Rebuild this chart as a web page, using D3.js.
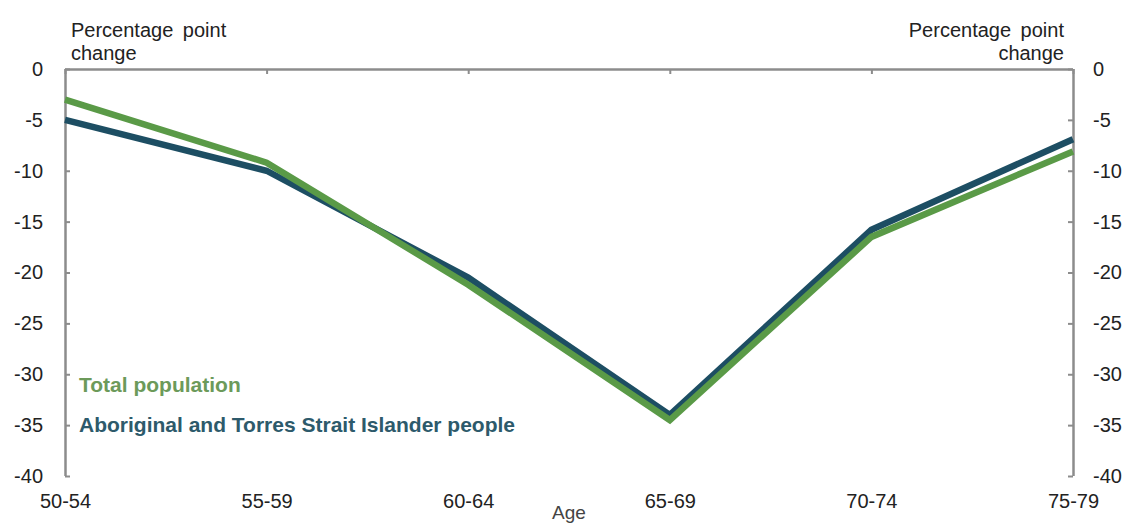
<!DOCTYPE html>
<html><head><meta charset="utf-8">
<script src="https://cdn.jsdelivr.net/npm/d3@7"></script>
<style>body{margin:0;background:#fff}svg{display:block}text{font-family:"Liberation Sans",Arial,sans-serif}</style>
</head><body><svg id="c" width="1126" height="525"></svg>
<script>
const categories = ["50-54","55-59","60-64","65-69","70-74","75-79"];
const totalPopulation = [-3.0, -9.2, -21.2, -34.5, -16.5, -8.1];
const aboriginal = [-5.0, -10.0, -20.5, -34.0, -15.8, -6.9];
const yTicks = [0,-5,-10,-15,-20,-25,-30,-35,-40];

const svg = d3.select("#c");
const L = 65, R = 1073, T = 69, B = 476;
const x = d3.scalePoint().domain(categories).range([L, R]);
const y = d3.scaleLinear().domain([-40, 0]).range([B, T]);
const axisCol = "#8c8c8c", txtCol = "#222";
const fmt = d => String(d);

const la = svg.append("g").attr("transform", `translate(${L},0)`)
  .call(d3.axisLeft(y).tickValues(yTicks).tickSize(-5).tickPadding(22).tickFormat(fmt));
const ra = svg.append("g").attr("transform", `translate(${R},0)`)
  .call(d3.axisRight(y).tickValues(yTicks).tickSize(-5).tickPadding(20).tickFormat(fmt));
const ta = svg.append("g").attr("transform", `translate(0,${y(0)})`)
  .call(d3.axisTop(x).tickSize(-5).tickFormat(""));
const ba = svg.append("g").attr("transform", `translate(0,${B})`)
  .call(d3.axisBottom(x).tickSize(0).tickPadding(18));
ba.select(".domain").remove();

[la, ra, ta].forEach(g => {
  g.select(".domain").attr("stroke", axisCol).attr("stroke-width", 2.5);
  g.selectAll(".tick line").attr("stroke", axisCol).attr("stroke-width", 2);
});
[la, ra, ba].forEach(g => g.selectAll("text").attr("font-size", 20).attr("fill", txtCol)
  .attr("font-family", '"Liberation Sans",Arial,sans-serif'));
la.select(".domain").attr("d", `M0.5,${T}V${B}`);
ra.select(".domain").attr("d", `M0.5,${T}V${B}`);
ta.select(".domain").attr("d", `M${L},0.5H${R}`);

const line = d3.line().x((d,i) => x(categories[i])).y(d => y(d));
svg.append("path").datum(aboriginal).attr("d", line).attr("fill","none")
  .attr("stroke","#1d4e63").attr("stroke-width",6.5).attr("stroke-linejoin","miter");
svg.append("path").datum(totalPopulation).attr("d", line).attr("fill","none")
  .attr("stroke","#5a9a47").attr("stroke-width",6.5).attr("stroke-linejoin","miter");

const t1 = svg.append("text").attr("y",37).attr("font-size",20).attr("fill",txtCol).attr("word-spacing",4);
t1.append("tspan").attr("x",71).text("Percentage point");
t1.append("tspan").attr("x",71).attr("dy",23).text("change");
const t2 = svg.append("text").attr("y",37).attr("font-size",20).attr("fill",txtCol).attr("text-anchor","end").attr("word-spacing",4);
t2.append("tspan").attr("x",1064).text("Percentage point");
t2.append("tspan").attr("x",1064).attr("dy",23).text("change");
svg.append("text").attr("x",569).attr("y",519).attr("text-anchor","middle").attr("font-size",19)
  .attr("fill","#444").text("Age");

svg.append("text").attr("x",79).attr("y",392).attr("font-size",21).attr("font-weight","bold")
  .attr("fill","#6c9a5a").text("Total population");
svg.append("text").attr("x",79).attr("y",432).attr("font-size",21).attr("font-weight","bold")
  .attr("fill","#2d5a6b").text("Aboriginal and Torres Strait Islander people");
</script></body></html>
